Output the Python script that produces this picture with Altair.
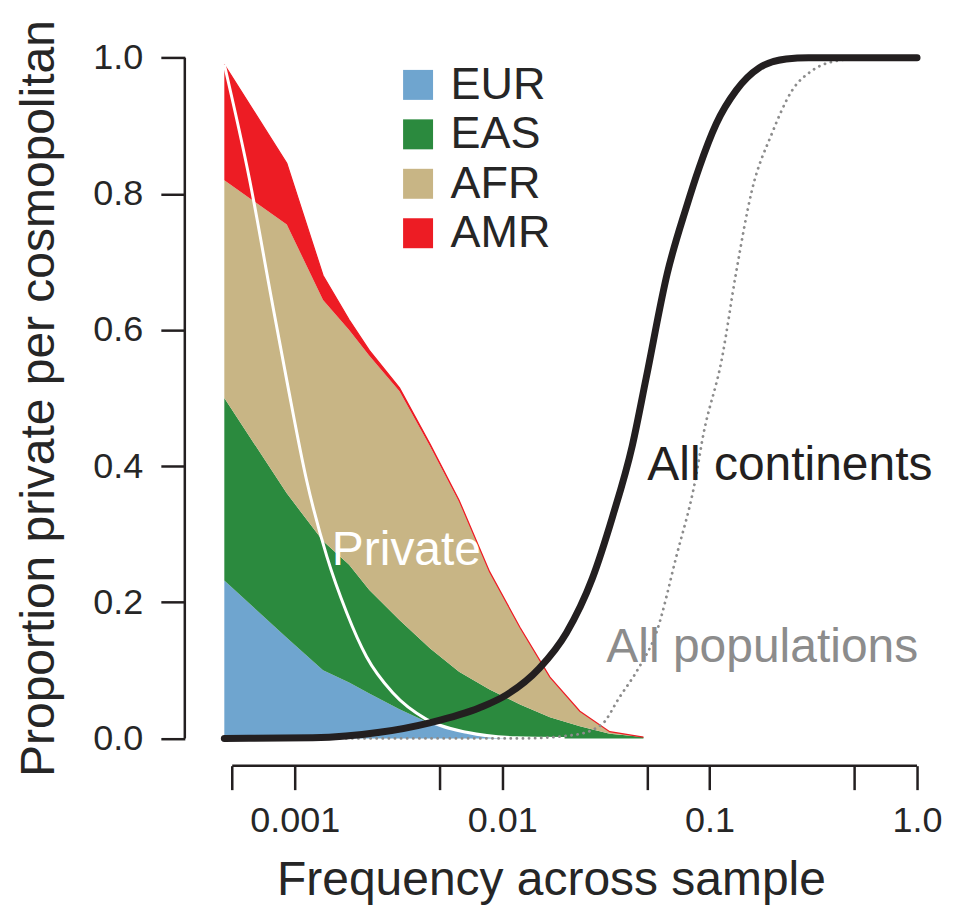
import altair as alt
import pandas as pd

# ---- data ----
freq = [0.000458, 0.000916, 0.00137, 0.00183, 0.00229, 0.0032, 0.0045,
        0.0062, 0.0087, 0.0122, 0.017, 0.0237, 0.033, 0.048]
eur = [0.232, 0.148, 0.100, 0.082, 0.066, 0.043, 0.022, 0.012, 0.004, 0.001, 0.0, 0.0, 0.0, 0.0]
eas = [0.268, 0.212, 0.190, 0.173, 0.152, 0.131, 0.110, 0.086, 0.068, 0.049, 0.031, 0.018, 0.007, 0.002]
afr = [0.320, 0.395, 0.354, 0.345, 0.344, 0.336, 0.297, 0.250, 0.172, 0.112, 0.058, 0.022, 0.003, 0.0]
amr = [0.170, 0.090, 0.036, 0.015, 0.008, 0.005, 0.003, 0.002, 0.001, 0.001, 0.001, 0.0, 0.0, 0.0]

populations = ["EUR", "EAS", "AFR", "AMR"]
pop_colors = ["#6fa5cf", "#2b8a3e", "#c8b585", "#ed1c24"]

cont_freq = [0.000458, 0.00122, 0.00257, 0.00447, 0.00778, 0.0105, 0.0151, 0.0204,
             0.0272, 0.034, 0.0424, 0.0495, 0.0625, 0.0772, 0.0892, 0.1077, 0.1344,
             0.1734, 0.234, 0.3, 1.0]
cont_val = [0.0, 0.001, 0.009, 0.023, 0.045, 0.064, 0.103, 0.155, 0.235, 0.325, 0.43,
            0.53, 0.683, 0.78, 0.839, 0.903, 0.952, 0.985, 0.998, 1.0, 1.0]

pops_freq = [0.000458, 0.012, 0.022, 0.0301, 0.0367, 0.0458, 0.0553, 0.0691, 0.0863,
             0.0922, 0.115, 0.134, 0.160, 0.200, 0.250, 0.312, 0.421, 0.6, 1.0]
pops_val = [0.0, 0.0, 0.005, 0.02, 0.06, 0.105, 0.155, 0.267, 0.387, 0.438, 0.56,
            0.683, 0.805, 0.889, 0.952, 0.981, 0.996, 1.0, 1.0]

priv_freq = [0.000458, 0.000607, 0.000775, 0.000916, 0.00114, 0.00143, 0.00178,
             0.00222, 0.00297, 0.00432, 0.00674, 0.0117, 0.02]
priv_val = [0.99, 0.82, 0.644, 0.526, 0.38, 0.267, 0.185, 0.12, 0.067, 0.028, 0.009, 0.001, 0.0]

x_tick_values = [0.0005, 0.001, 0.005, 0.01, 0.05, 0.1, 0.5, 1.0]
x_tick_labels = ["", "0.001", "", "0.01", "", "0.1", "", "1.0"]
y_tick_values = [0.0, 0.2, 0.4, 0.6, 0.8, 1.0]

annotations = [
    ("All continents", 0.0501, 0.40, "#231f20"),
    ("All populations", 0.0318, 0.133, "#8c8c8c"),
    ("Private", 0.00151, 0.276, "#ffffff"),
]

FONT = "Liberation Sans"
INK = "#231f20"
TXT = "#262626"

# ---- tables ----
rows = []
for i, f in enumerate(freq):
    lo = 0.0
    for p, vals in zip(populations, [eur, eas, afr, amr]):
        hi = lo + vals[i]
        rows.append({"freq": f, "pop": p, "lo": lo, "hi": hi})
        lo = hi
area_df = pd.DataFrame(rows)
cont_df = pd.DataFrame({"freq": cont_freq, "val": cont_val})
pops_df = pd.DataFrame({"freq": pops_freq, "val": pops_val})
priv_df = pd.DataFrame({"freq": priv_freq, "val": priv_val})

label_expr = " : ".join(
    f"datum.value == {v} ? '{l}'" for v, l in zip(x_tick_values, x_tick_labels)
) + " : ''"

xscale = alt.Scale(type="log", domain=[0.0002954, 1.0], nice=False)
yscale = alt.Scale(domain=[-0.04, 1.04], nice=False, zero=False)

x_axis = alt.Axis(
    values=x_tick_values, labelExpr=label_expr, domain=False, grid=False,
    tickSize=24, tickWidth=2.5, tickColor=INK, labelFontSize=36, labelFont=FONT,
    labelColor=TXT, labelPadding=14, labelOverlap=False, labelFlush=False,
    title="Frequency across sample", titleFontSize=48, titleFont=FONT,
    titleFontWeight="normal", titleColor=TXT, titleY=129,
    titleBaseline="alphabetic",
)
y_axis = alt.Axis(
    values=y_tick_values, format=".1f", domain=False, grid=False,
    tickSize=24, tickWidth=2.5, tickColor=INK, labelFontSize=36, labelFont=FONT,
    labelColor=TXT, labelPadding=18,
    title="Proportion private per cosmopolitan", titleFontSize=48, titleFont=FONT,
    titleFontWeight="normal", titleColor=TXT, titleX=-131,
    titleBaseline="alphabetic", titleAngle=-90,
)

areas = alt.Chart(area_df).mark_area(interpolate="linear", opacity=1).encode(
    x=alt.X("freq:Q", scale=xscale, axis=x_axis),
    y=alt.Y("lo:Q", scale=yscale, axis=y_axis),
    y2="hi:Q",
    color=alt.Color(
        "pop:N",
        scale=alt.Scale(domain=populations, range=pop_colors),
        legend=alt.Legend(
            title=None, orient="none", legendX=211, legendY=32,
            symbolType="square", symbolSize=900, symbolStrokeWidth=0,
            symbolOpacity=1, labelFontSize=45, labelFont=FONT, labelColor=TXT,
            labelOffset=10, rowPadding=3.5, padding=0,
        ),
    ),
)

amr_edge = alt.Chart(area_df).transform_filter(alt.datum.pop == "AMR").mark_line(
    color="#ed1c24", strokeWidth=1.2
).encode(x=alt.X("freq:Q", scale=xscale), y=alt.Y("hi:Q", scale=yscale))

priv_line = alt.Chart(priv_df).mark_line(
    color="white", strokeWidth=3, interpolate="monotone"
).encode(x=alt.X("freq:Q", scale=xscale), y=alt.Y("val:Q", scale=yscale))

pops_line = alt.Chart(pops_df).mark_line(
    color="#8c8c8c", strokeWidth=2.8, strokeDash=[0.1, 6], strokeCap="round",
    interpolate="monotone"
).encode(x=alt.X("freq:Q", scale=xscale), y=alt.Y("val:Q", scale=yscale))

cont_line = alt.Chart(cont_df).mark_line(
    color=INK, strokeWidth=7, interpolate="monotone", strokeCap="round"
).encode(x=alt.X("freq:Q", scale=xscale), y=alt.Y("val:Q", scale=yscale))

x_domain = alt.Chart(pd.DataFrame({"a": [x_tick_values[0]], "b": [x_tick_values[-1]]})).mark_rule(
    color=INK, strokeWidth=2.5
).encode(x=alt.X("a:Q", scale=xscale), x2="b:Q", y=alt.value(736))

y_domain = alt.Chart(pd.DataFrame({"a": [y_tick_values[0]], "b": [y_tick_values[-1]]})).mark_rule(
    color=INK, strokeWidth=2.5
).encode(y=alt.Y("a:Q", scale=yscale), y2="b:Q", x=alt.value(0))

texts = []
for label, fx, fy, col in annotations:
    texts.append(
        alt.Chart(pd.DataFrame({"x": [fx], "y": [fy], "t": [label]})).mark_text(
            align="left", baseline="middle", fontSize=48, font=FONT, color=col
        ).encode(x=alt.X("x:Q", scale=xscale), y=alt.Y("y:Q", scale=yscale), text="t:N")
    )

chart = alt.layer(
    areas, amr_edge, priv_line, pops_line, cont_line, x_domain, y_domain, *texts
).properties(
    width=733, height=736,
    autosize=alt.AutoSizeParams(type="none"),
    padding={"left": 177, "top": 22, "right": 40, "bottom": 141},
).configure(background="white").configure_view(stroke=None, strokeWidth=0)

chart.save("out.html", embed_options={"renderer": "svg", "actions": False})
